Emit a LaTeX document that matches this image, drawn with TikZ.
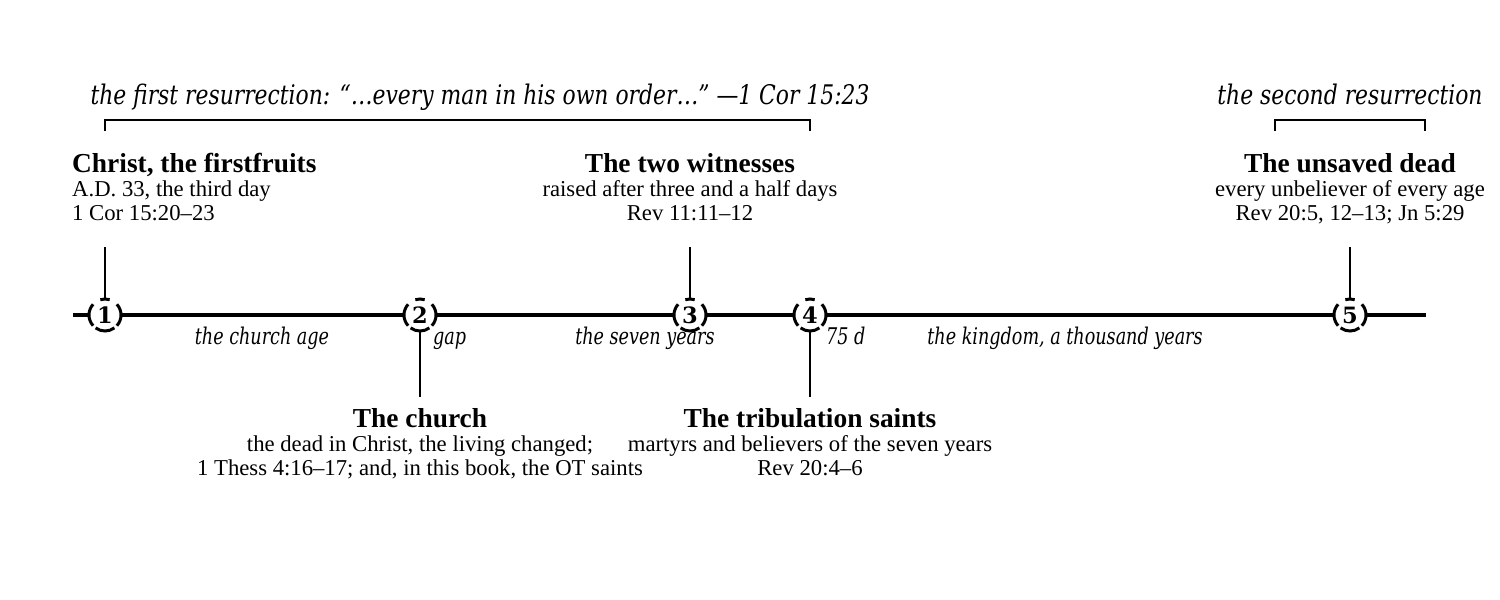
\documentclass[tikz,border=0pt]{standalone}
\usepackage{fontspec}
\usetikzlibrary{calc}
\setmainfont{Liberation Serif}
\newfontfamily\itfontA{DejaVu Serif Condensed Italic}[FakeStretch=0.9]
\newfontfamily\itfontB{DejaVu Serif Condensed Italic}[FakeStretch=0.85]
\newfontfamily\numfont{DejaVu Serif Bold}
\begin{document}
\begin{tikzpicture}[x=1pt,y=-1pt,
  timeline/.style={line width=4.3pt},
  tickline/.style={line width=2pt},
  bracket/.style={line width=2pt},
  ringarc/.style={line width=3pt},
  numnode/.style={circle,minimum size=32pt,inner sep=0pt,fill=white,font=\numfont\fontsize{22.5}{23}\selectfont},
  ttl/.style={anchor=base,inner sep=0pt,font=\bfseries\fontsize{27.4}{30}\selectfont},
  body/.style={anchor=base,inner sep=0pt,font=\fontsize{22.7}{25}\selectfont},
  itl/.style={anchor=base,inner sep=0pt,font=\itfontB\fontsize{23}{25}\selectfont},
  topit/.style={anchor=base,inner sep=0pt,font=\itfontA\fontsize{27}{29}\selectfont}]
\useasboundingbox (0,0) rectangle (1500,600);
% timeline
\coordinate (tlA) at (73,315);
\coordinate (tlB) at (1426,315);
\draw[timeline] (tlA) -- (tlB);
% number nodes
\foreach \n/\x in {1/105,2/420,3/690,4/810,5/1350}{
  \node[numnode] (n\n) at (\x,315) {\n};
  \foreach \a/\b in {-42/42,138/222,253/287,54/126}{
    \draw[ringarc] ($(n\n.center)+(\a:16)$) arc[start angle=\a,end angle=\b,radius=16];
  }
}
% ticks
\coordinate (t1) at (105,247);
\coordinate (t3) at (690,247);
\coordinate (t5) at (1350,247);
\coordinate (t2) at (420,397);
\coordinate (t4) at (810,397);
\draw[tickline] (n1) -- (t1);
\draw[tickline] (n3) -- (t3);
\draw[tickline] (n5) -- (t5);
\draw[tickline] (n2) -- (t2);
\draw[tickline] (n4) -- (t4);
% brackets
\coordinate (b1a) at (105,131);
\coordinate (b1b) at (810,131);
\coordinate (b2a) at (1275,131);
\coordinate (b2b) at (1425,131);
\draw[bracket] (b1a) -- ++(0,-11) -| (b1b);
\draw[bracket] (b2a) -- ++(0,-11) -| (b2b);
\node[topit] (first) at (480,104) {the first resurrection: “…every man in his own order…” —1 Cor 15:23};
\node[topit] (second) at (1350,104) {the second resurrection};
% event 1
\node[ttl,anchor=base west] (e1t) at (72,172) {Christ, the firstfruits};
\node[body,anchor=base west] (e1a) at (72,196) {A.D. 33, the third day};
\node[body,anchor=base west] (e1b) at (72,220) {1 Cor 15:20–23};
% event 3
\node[ttl] (e3t) at (690,172) {The two witnesses};
\node[body] (e3a) at (690,196) {raised after three and a half days};
\node[body] (e3b) at (690,220) {Rev 11:11–12};
% event 5
\node[ttl] (e5t) at (1350,172) {The unsaved dead};
\node[body] (e5a) at (1350,196) {every unbeliever of every age};
\node[body] (e5b) at (1350,220) {Rev 20:5, 12–13; Jn 5:29};
% event 2
\node[ttl] (e2t) at (420,427) {The church};
\node[body] (e2a) at (420,451) {the dead in Christ, the living changed;};
\node[body] (e2b) at (420,475) {1 Thess 4:16–17; and, in this book, the OT saints};
% event 4
\node[ttl] (e4t) at (810,427) {The tribulation saints};
\node[body] (e4a) at (810,451) {martyrs and believers of the seven years};
\node[body] (e4b) at (810,475) {Rev 20:4–6};
% period labels
\node[itl] (p1) at (262,344) {the church age};
\node[itl,anchor=base west] (p2) at (433,344) {gap};
\node[itl] (p3) at (645,344) {the seven years};
\node[itl,anchor=base west] (p4) at (826,344) {75 d};
\node[itl] (p5) at (1065,344) {the kingdom, a thousand years};
\end{tikzpicture}
\end{document}
